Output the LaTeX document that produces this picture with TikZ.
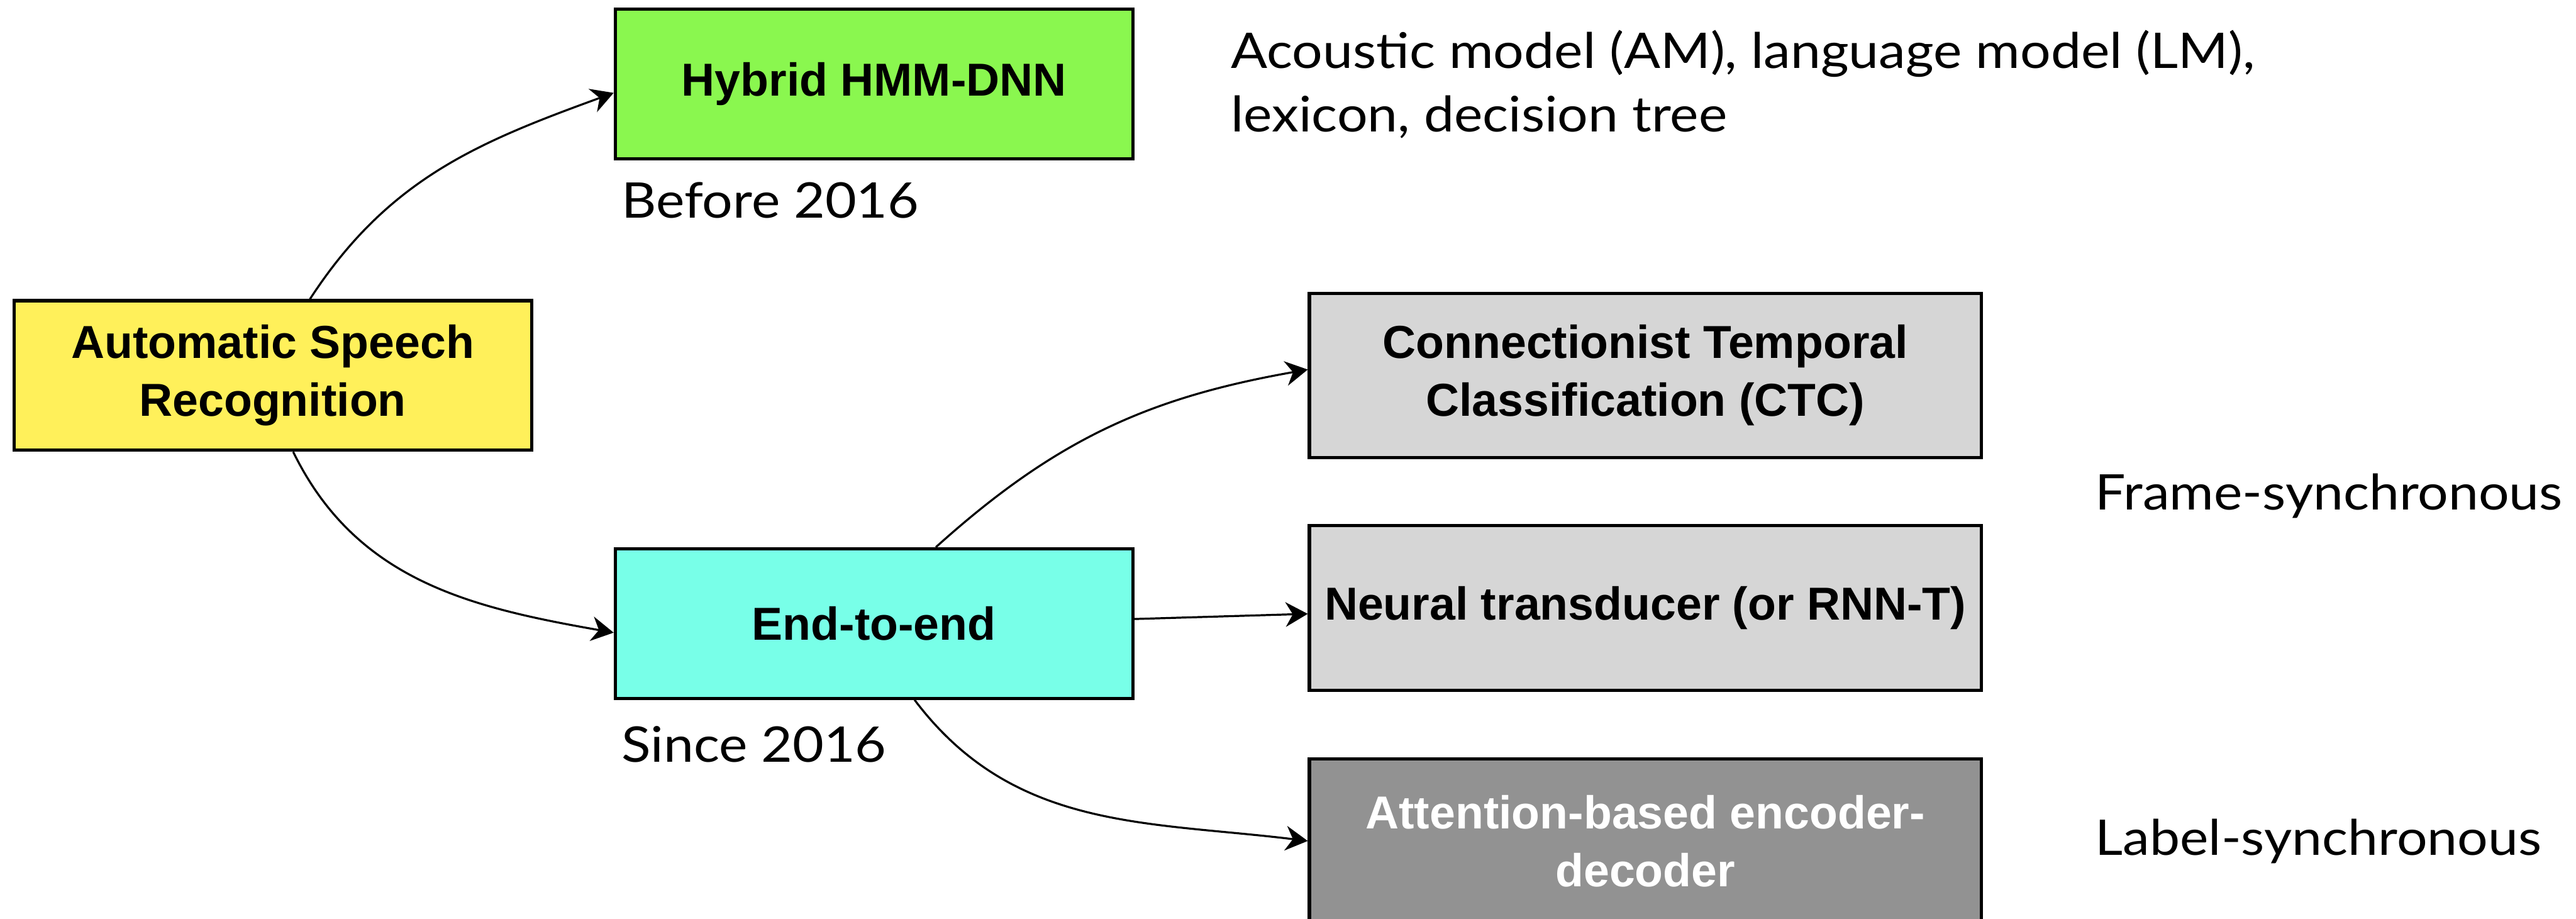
\documentclass[tikz,border=0pt]{standalone}
\usepackage{fontspec}
\setmainfont{Lato}[FakeStretch=1.1]
\newfontfamily\boxfont{Liberation Sans}
\usepackage{xcolor}
\usetikzlibrary{arrows.meta,positioning}

\definecolor{asryellow}{RGB}{255,240,90}
\definecolor{hybgreen}{RGB}{138,247,79}
\definecolor{etecyan}{RGB}{120,255,232}
\definecolor{lightgray}{RGB}{214,214,214}
\definecolor{darkgray}{RGB}{146,146,146}

\begin{document}
\begin{tikzpicture}[
                boxtext/.style={draw, line width=1.1pt, align=center, inner sep=0pt, font=\boxfont\bfseries\fontsize{16}{20}\selectfont},
                erabox/.style={boxtext, minimum width=6.3cm, minimum height=1.82cm},
                e2ebox/.style={boxtext, minimum width=8.18cm, minimum height=2.0cm},
                note/.style={align=left, inner sep=0pt, font=\fontsize{17}{22}\selectfont},
                bus/.style={-{Stealth[length=2.7mm, width=3mm]}, line width=0.7pt}
            ]
            \useasboundingbox (0,0) rectangle (31.36,11.18);
            \node[erabox, fill=asryellow] (asr) at (3.32,6.61) {Automatic Speech\\Recognition};
            \node[erabox, fill=hybgreen] (hybrid) at (10.64,10.16) {Hybrid HMM-DNN};
            \node[erabox, fill=etecyan] (e2e) at (10.64,3.59) {End-to-end};
            \node[e2ebox, fill=lightgray] (ctc) at (20.03,6.61) {Connectionist Temporal\\Classification (CTC)};
            \node[e2ebox, fill=lightgray] (rnnt) at (20.03,3.78) {Neural transducer (or RNN-T)};
            \node[e2ebox, fill=darkgray, text=white] (aed) at (20.03,0.944) {Attention-based encoder-\\decoder};
            \node[note, anchor=west] (before) at (7.56,8.74) {Before 2016};
            \node[note, anchor=west] (since) at (7.56,2.12) {Since 2016};
            \node[note, anchor=west] (parts) at (14.98,10.15) {Acoustic model (AM), language model (LM),\\lexicon, decision tree};
            \node[note, anchor=west] (framesync) at (25.5,5.14) {Frame-synchronous};
            \node[note, anchor=west] (labelsync) at (25.5,0.94) {Label-synchronous};
            \draw[bus] (asr.64) to[out=57, in=200] (hybrid.-178);
            \draw[bus] (asr.-75) to[out=-64, in=170] (e2e.-178);
            \draw[bus] (e2e.51) to[out=42, in=190] (ctc.179);
            \draw[bus] (e2e.1) -- (rnnt.181);
            \draw[bus] (e2e.-62) to[out=-53, in=173] (aed.west);
        \end{tikzpicture}
\end{document}
